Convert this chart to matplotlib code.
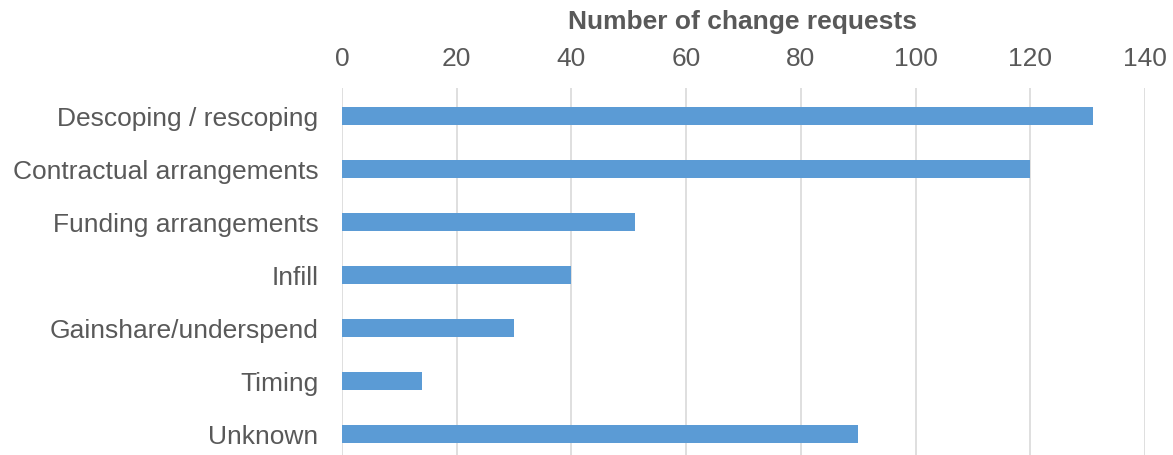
import matplotlib
matplotlib.use('Agg')
import matplotlib.pyplot as plt

plt.rcParams['font.family'] = ['Liberation Sans', 'DejaVu Sans']

categories = ['Descoping / rescoping', 'Contractual arrangements', 'Funding arrangements',
              'Infill', 'Gainshare/underspend', 'Timing', 'Unknown']
counts = [131, 120, 51, 40, 30, 14, 90]
xticks = [0, 20, 40, 60, 80, 100, 120, 140]

W, H = 1173, 456
fig = plt.figure(figsize=(W / 100, H / 100), dpi=100)
ax = fig.add_axes([342 / W, 0, (1145 - 342) / W, 1 - 89 / H])

ypos = list(range(len(categories)))
ax.barh(ypos, counts, height=0.34, color='#5b9bd5', zorder=3)
ax.set_ylim(6.4, -0.52)
ax.set_xlim(0, 140)
ax.set_xticks(xticks)
ax.set_yticks(ypos)
ax.set_yticklabels(categories)
ax.xaxis.tick_top()
ax.grid(axis='x', color='#d9d9d9', linewidth=1.2, zorder=0)
for s in ax.spines.values():
    s.set_visible(False)
ax.tick_params(axis='both', length=0, labelsize=19, colors='#595959')
ax.tick_params(axis='x', pad=13)
ax.tick_params(axis='y', pad=17)

fig.text(743 / W, 1 - 22 / H, 'Number of change requests', ha='center', va='center',
         fontsize=19, fontweight='bold', color='#595959')

fig.savefig('out.png', dpi=100)
